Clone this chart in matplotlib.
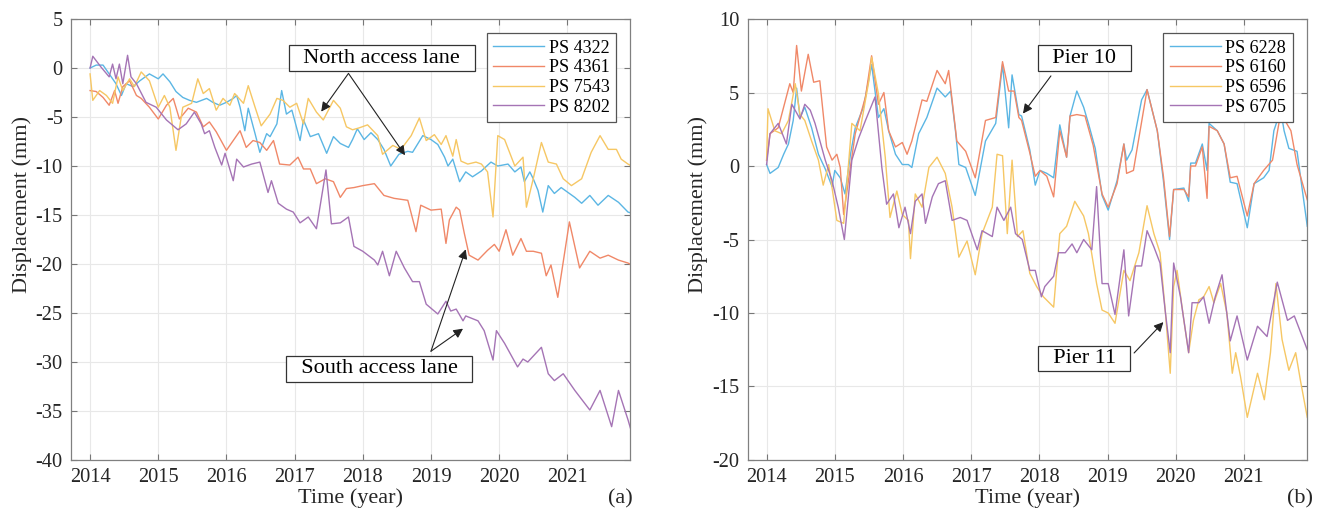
import matplotlib.pyplot as plt

plt.rcParams['font.family'] = ['Liberation Serif', 'DejaVu Serif']
plt.rcParams['axes.unicode_minus'] = False

# (a) access lanes: (decimal year, displacement mm)
ps_4322 = [(2014.00, 0.0), (2014.09, 0.3), (2014.19, 0.3), (2014.28, -0.6), (2014.38, -1.6), (2014.46, -2.8),
           (2014.53, -1.6), (2014.63, -1.9), (2014.73, -1.3), (2014.87, -0.6), (2015.00, -1.1), (2015.07, -0.6),
           (2015.17, -1.4), (2015.26, -2.4), (2015.36, -3.0), (2015.46, -3.3), (2015.56, -3.5), (2015.71, -3.1),
           (2015.80, -3.5), (2015.90, -3.8), (2016.00, -3.5), (2016.10, -3.1), (2016.15, -2.8), (2016.20, -4.0),
           (2016.27, -6.4), (2016.32, -4.1), (2016.42, -6.7), (2016.49, -8.6), (2016.59, -6.7), (2016.64, -7.0),
           (2016.74, -5.7), (2016.81, -2.3), (2016.88, -4.7), (2016.96, -4.3), (2017.08, -7.4), (2017.13, -5.3),
           (2017.23, -7.0), (2017.35, -6.7), (2017.47, -8.7), (2017.57, -7.0), (2017.67, -7.7), (2017.79, -8.1),
           (2017.85, -7.3), (2017.92, -6.2), (2018.02, -7.3), (2018.12, -6.6), (2018.22, -7.3), (2018.31, -8.3),
           (2018.41, -10.0), (2018.53, -8.8), (2018.66, -8.5), (2018.73, -8.6), (2018.88, -6.9), (2019.00, -7.3),
           (2019.10, -7.8), (2019.20, -9.1), (2019.25, -10.0), (2019.32, -9.3), (2019.42, -11.6), (2019.51, -10.6),
           (2019.61, -11.1), (2019.74, -10.5), (2019.88, -9.6), (2019.98, -10.0), (2020.13, -9.8), (2020.23, -10.6),
           (2020.32, -10.1), (2020.37, -11.6), (2020.45, -10.6), (2020.50, -11.3), (2020.57, -12.5), (2020.64, -14.7),
           (2020.72, -12.0), (2020.81, -12.8), (2020.91, -12.2), (2021.11, -13.2), (2021.21, -13.8), (2021.33, -13.0),
           (2021.45, -14.0), (2021.60, -13.0), (2021.75, -13.7), (2021.89, -14.7), (2021.94, -14.8)]

ps_4361 = [(2014.00, -2.3), (2014.09, -2.4), (2014.19, -3.0), (2014.28, -3.8), (2014.36, -2.3), (2014.41, -3.6),
           (2014.48, -1.9), (2014.58, -1.3), (2014.68, -2.8), (2014.75, -3.1), (2014.87, -4.0), (2015.00, -5.2),
           (2015.12, -3.8), (2015.22, -3.1), (2015.31, -5.2), (2015.44, -4.1), (2015.56, -4.5), (2015.66, -6.0),
           (2015.75, -5.5), (2015.85, -6.5), (2016.00, -8.4), (2016.10, -7.4), (2016.20, -6.4), (2016.29, -8.1),
           (2016.39, -7.4), (2016.49, -7.6), (2016.59, -8.4), (2016.69, -7.4), (2016.78, -9.8), (2016.93, -9.9),
           (2017.05, -9.1), (2017.13, -10.3), (2017.23, -10.3), (2017.32, -11.8), (2017.45, -11.3), (2017.57, -11.6),
           (2017.67, -13.2), (2017.76, -12.3), (2017.87, -12.2), (2018.00, -12.0), (2018.17, -11.8), (2018.31, -13.0),
           (2018.46, -13.3), (2018.66, -13.5), (2018.78, -16.7), (2018.85, -14.0), (2019.00, -14.5), (2019.15, -14.4),
           (2019.22, -17.9), (2019.27, -15.5), (2019.37, -14.2), (2019.42, -14.5), (2019.49, -16.9), (2019.56, -19.1),
           (2019.69, -19.6), (2019.83, -18.6), (2019.93, -18.0), (2020.00, -18.7), (2020.10, -16.5), (2020.20, -19.1),
           (2020.32, -17.4), (2020.40, -18.7), (2020.50, -18.7), (2020.62, -18.9), (2020.69, -21.2), (2020.76, -20.1),
           (2020.86, -23.4), (2021.03, -15.7), (2021.18, -20.4), (2021.33, -18.7), (2021.48, -19.4), (2021.60, -19.1),
           (2021.75, -19.6), (2021.89, -19.9), (2021.94, -20.1)]

ps_7543 = [(2014.00, -0.6), (2014.04, -3.3), (2014.14, -2.3), (2014.24, -2.8), (2014.33, -3.6), (2014.41, -0.9),
           (2014.48, -2.3), (2014.58, -1.1), (2014.65, -1.9), (2014.75, -0.4), (2014.87, -1.3), (2015.00, -4.0),
           (2015.09, -2.8), (2015.17, -4.0), (2015.26, -8.4), (2015.36, -4.0), (2015.49, -3.6), (2015.58, -1.1),
           (2015.66, -2.6), (2015.75, -2.1), (2015.85, -4.3), (2015.95, -3.1), (2016.05, -3.8), (2016.12, -2.6),
           (2016.25, -3.6), (2016.32, -1.8), (2016.42, -4.0), (2016.51, -5.9), (2016.64, -4.7), (2016.74, -3.1),
           (2016.83, -3.3), (2016.93, -4.0), (2017.03, -3.6), (2017.13, -5.7), (2017.20, -3.1), (2017.32, -4.5),
           (2017.42, -5.3), (2017.57, -3.3), (2017.67, -4.1), (2017.76, -6.0), (2017.85, -6.3), (2017.95, -6.1),
           (2018.07, -5.8), (2018.22, -6.9), (2018.29, -8.8), (2018.44, -7.9), (2018.56, -8.3), (2018.71, -6.9),
           (2018.83, -5.1), (2018.93, -7.4), (2019.05, -6.8), (2019.15, -7.8), (2019.22, -6.9), (2019.32, -9.0),
           (2019.37, -7.3), (2019.44, -9.5), (2019.54, -9.8), (2019.66, -9.6), (2019.74, -9.8), (2019.83, -10.6),
           (2019.91, -15.2), (2019.98, -6.9), (2020.08, -7.3), (2020.23, -10.0), (2020.35, -9.1), (2020.40, -14.2),
           (2020.50, -11.3), (2020.62, -7.6), (2020.72, -9.6), (2020.84, -9.8), (2020.94, -11.3), (2021.06, -12.0),
           (2021.21, -11.3), (2021.35, -8.6), (2021.48, -6.9), (2021.60, -8.3), (2021.72, -8.3), (2021.79, -9.3),
           (2021.89, -9.8), (2021.94, -10.0)]

ps_8202 = [(2014.00, 0.0), (2014.04, 1.2), (2014.16, 0.1), (2014.28, -0.9), (2014.33, 0.4), (2014.38, -1.1),
           (2014.43, 0.4), (2014.48, -1.6), (2014.55, 1.3), (2014.60, -0.9), (2014.68, -1.6), (2014.82, -3.5),
           (2014.97, -4.0), (2015.12, -5.3), (2015.29, -6.3), (2015.41, -5.7), (2015.53, -4.5), (2015.63, -5.7),
           (2015.68, -6.7), (2015.75, -6.4), (2015.83, -8.1), (2015.93, -9.9), (2015.98, -8.7), (2016.10, -11.5),
           (2016.15, -9.3), (2016.25, -10.1), (2016.37, -9.8), (2016.49, -9.6), (2016.61, -12.7), (2016.66, -11.5),
           (2016.76, -13.8), (2016.88, -14.4), (2016.98, -14.7), (2017.08, -15.8), (2017.20, -15.2), (2017.32, -16.4),
           (2017.46, -10.4), (2017.54, -15.9), (2017.67, -15.8), (2017.79, -15.2), (2017.87, -18.2), (2018.00, -18.7),
           (2018.17, -19.6), (2018.22, -20.1), (2018.29, -18.7), (2018.39, -21.2), (2018.49, -18.7), (2018.61, -20.4),
           (2018.73, -21.8), (2018.83, -21.8), (2018.93, -24.1), (2019.10, -25.1), (2019.22, -23.8), (2019.29, -24.8),
           (2019.37, -24.6), (2019.47, -25.8), (2019.51, -25.3), (2019.69, -25.8), (2019.78, -26.8), (2019.91, -29.8),
           (2019.96, -26.8), (2020.08, -28.1), (2020.27, -30.5), (2020.35, -29.7), (2020.42, -30.0), (2020.62, -28.5),
           (2020.72, -31.2), (2020.81, -31.9), (2020.94, -31.2), (2021.11, -32.9), (2021.33, -34.9), (2021.48, -32.9),
           (2021.65, -36.6), (2021.75, -32.9), (2021.89, -35.9), (2021.94, -37.1)]

# (b) piers
ps_6228 = [(2014.00, 0.1), (2014.05, -0.5), (2014.17, -0.1), (2014.25, 0.8), (2014.32, 1.5), (2014.39, 3.1),
           (2014.44, 5.3), (2014.49, 3.3), (2014.56, 4.0), (2014.66, 2.6), (2014.76, 0.8), (2014.86, -0.2),
           (2014.96, -1.4), (2015.00, -0.3), (2015.08, -0.8), (2015.15, -1.9), (2015.23, 0.8), (2015.30, 2.6),
           (2015.42, 4.0), (2015.54, 6.9), (2015.64, 3.3), (2015.72, 3.9), (2015.79, 2.4), (2015.89, 0.8),
           (2015.99, 0.1), (2016.08, 0.1), (2016.13, -0.1), (2016.23, 2.2), (2016.35, 3.3), (2016.50, 5.3),
           (2016.62, 4.7), (2016.70, 5.1), (2016.77, 2.4), (2016.82, 0.1), (2016.92, -0.1), (2017.06, -2.0),
           (2017.21, 1.7), (2017.36, 2.9), (2017.46, 6.9), (2017.55, 2.6), (2017.60, 6.2), (2017.70, 3.5),
           (2017.74, 3.4), (2017.86, 1.1), (2017.94, -1.3), (2018.01, -0.3), (2018.11, -0.5), (2018.21, -0.8),
           (2018.30, 2.8), (2018.40, 0.6), (2018.45, 3.4), (2018.55, 5.1), (2018.65, 4.0), (2018.72, 2.9),
           (2018.82, 1.2), (2018.92, -2.0), (2019.01, -3.0), (2019.14, -1.0), (2019.24, 1.5), (2019.28, 0.4),
           (2019.36, 1.1), (2019.50, 4.5), (2019.58, 5.2), (2019.73, 2.4), (2019.82, -1.0), (2019.91, -5.0),
           (2019.97, -1.6), (2020.12, -1.5), (2020.19, -2.4), (2020.22, 0.2), (2020.29, 0.2), (2020.39, 1.5),
           (2020.46, -0.3), (2020.49, 2.9), (2020.61, 2.4), (2020.71, 1.5), (2020.80, -1.1), (2020.90, -1.2),
           (2021.05, -4.2), (2021.15, -1.2), (2021.29, -0.8), (2021.37, -0.3), (2021.44, 2.4), (2021.54, 3.8),
           (2021.59, 2.4), (2021.66, 1.2), (2021.78, 1.0), (2021.93, -4.1)]

ps_6160 = [(2014.00, 0.4), (2014.05, 2.2), (2014.17, 2.6), (2014.34, 5.6), (2014.39, 5.0), (2014.44, 8.2),
           (2014.51, 5.1), (2014.61, 7.6), (2014.69, 5.7), (2014.78, 5.8), (2014.88, 1.3), (2014.96, 0.4),
           (2015.03, 0.8), (2015.08, -0.1), (2015.13, -3.3), (2015.20, -1.0), (2015.30, 2.2), (2015.45, 4.7),
           (2015.54, 7.5), (2015.64, 4.2), (2015.72, 5.0), (2015.79, 2.4), (2015.89, 1.3), (2015.99, 1.6),
           (2016.06, 0.8), (2016.13, 1.7), (2016.28, 4.5), (2016.35, 4.4), (2016.50, 6.5), (2016.62, 5.6),
           (2016.67, 6.5), (2016.79, 1.7), (2016.92, 1.0), (2017.06, -0.8), (2017.21, 3.1), (2017.36, 3.3),
           (2017.46, 7.1), (2017.55, 5.1), (2017.63, 5.1), (2017.70, 3.3), (2017.74, 3.1), (2017.86, 0.9),
           (2017.94, -0.7), (2018.01, -0.3), (2018.11, -0.7), (2018.21, -2.1), (2018.30, 2.4), (2018.40, 0.6),
           (2018.45, 3.4), (2018.55, 3.5), (2018.67, 3.4), (2018.79, 1.4), (2018.92, -1.9), (2019.01, -2.8),
           (2019.14, -1.2), (2019.24, 1.5), (2019.28, -0.5), (2019.38, -0.3), (2019.50, 3.0), (2019.58, 5.2),
           (2019.73, 2.4), (2019.82, -0.7), (2019.91, -4.8), (2019.97, -1.6), (2020.12, -1.6), (2020.19, -2.1),
           (2020.22, 0.0), (2020.29, 0.0), (2020.39, 1.3), (2020.46, -2.2), (2020.49, 2.7), (2020.61, 2.4),
           (2020.71, 1.5), (2020.80, -0.8), (2020.90, -0.7), (2021.05, -3.4), (2021.15, -1.2), (2021.29, -0.3),
           (2021.42, 0.4), (2021.54, 3.6), (2021.69, 2.4), (2021.78, 0.1), (2021.93, -2.3)]

ps_6596 = [(2014.00, 0.4), (2014.02, 3.9), (2014.12, 2.4), (2014.22, 2.2), (2014.32, 3.1), (2014.42, 5.6),
           (2014.49, 3.5), (2014.56, 3.1), (2014.66, 1.7), (2014.76, 0.4), (2014.83, -1.3), (2014.91, 0.1),
           (2015.03, -3.7), (2015.13, -3.9), (2015.25, 2.9), (2015.37, 2.4), (2015.50, 5.8), (2015.54, 7.4),
           (2015.64, 4.9), (2015.74, 0.6), (2015.81, -3.5), (2015.91, -1.7), (2015.99, -3.3), (2016.08, -3.7),
           (2016.11, -6.3), (2016.18, -1.9), (2016.28, -2.8), (2016.38, -0.1), (2016.50, 0.6), (2016.62, -0.5),
           (2016.72, -2.8), (2016.82, -6.2), (2016.94, -5.1), (2017.06, -7.4), (2017.16, -4.6), (2017.31, -2.8),
           (2017.38, 0.8), (2017.46, 0.7), (2017.53, -4.6), (2017.60, 0.4), (2017.68, -4.8), (2017.76, -4.4),
           (2017.86, -7.3), (2017.96, -8.2), (2018.06, -8.9), (2018.21, -9.6), (2018.30, -4.6), (2018.40, -4.1),
           (2018.52, -2.4), (2018.65, -3.4), (2018.72, -4.6), (2018.84, -8.0), (2018.92, -9.8), (2019.01, -10.0),
           (2019.11, -10.7), (2019.24, -7.1), (2019.33, -7.8), (2019.46, -5.9), (2019.58, -2.7), (2019.68, -4.6),
           (2019.77, -5.9), (2019.85, -10.0), (2019.92, -14.1), (2019.97, -8.2), (2020.02, -7.1), (2020.12, -10.5),
           (2020.19, -12.7), (2020.26, -10.5), (2020.34, -9.1), (2020.41, -8.9), (2020.49, -8.2), (2020.56, -9.3),
           (2020.66, -8.0), (2020.75, -10.0), (2020.83, -14.1), (2020.88, -12.7), (2020.95, -14.3), (2021.05, -17.1),
           (2021.20, -14.1), (2021.30, -15.9), (2021.39, -12.7), (2021.47, -8.0), (2021.56, -11.8), (2021.66, -13.9),
           (2021.76, -12.7), (2021.83, -14.6), (2021.93, -17.1)]

ps_6705 = [(2014.00, 0.1), (2014.05, 2.2), (2014.17, 2.9), (2014.29, 1.5), (2014.37, 4.2), (2014.49, 3.2),
           (2014.56, 4.2), (2014.64, 3.8), (2014.71, 2.9), (2014.86, 0.4), (2014.96, -1.0), (2015.05, -2.8),
           (2015.14, -5.0), (2015.25, 0.4), (2015.35, 1.9), (2015.45, 3.1), (2015.59, 4.7), (2015.69, -0.1),
           (2015.76, -2.6), (2015.86, -1.9), (2015.94, -4.2), (2016.03, -2.8), (2016.11, -4.6), (2016.18, -2.4),
           (2016.28, -1.9), (2016.33, -3.9), (2016.43, -2.1), (2016.52, -1.2), (2016.62, -1.0), (2016.72, -3.7),
           (2016.84, -3.5), (2016.94, -3.7), (2017.09, -5.7), (2017.16, -4.4), (2017.31, -4.8), (2017.38, -2.8),
           (2017.48, -3.7), (2017.58, -2.8), (2017.65, -4.6), (2017.75, -5.0), (2017.86, -7.1), (2017.94, -7.1),
           (2018.03, -8.9), (2018.08, -8.2), (2018.21, -7.5), (2018.28, -5.9), (2018.38, -5.9), (2018.48, -5.3),
           (2018.55, -5.9), (2018.65, -5.0), (2018.77, -5.7), (2018.84, -1.4), (2018.92, -8.0), (2019.01, -8.0),
           (2019.11, -10.1), (2019.24, -5.7), (2019.31, -10.2), (2019.41, -6.8), (2019.50, -6.8), (2019.58, -4.4),
           (2019.68, -5.5), (2019.77, -6.6), (2019.85, -10.0), (2019.92, -12.7), (2019.97, -6.6), (2020.07, -8.9),
           (2020.19, -12.7), (2020.24, -9.3), (2020.34, -9.3), (2020.41, -8.9), (2020.49, -10.7), (2020.58, -8.9),
           (2020.68, -7.4), (2020.80, -11.9), (2020.90, -10.2), (2021.05, -13.2), (2021.20, -10.9), (2021.34, -11.6),
           (2021.49, -7.9), (2021.64, -10.5), (2021.74, -10.2), (2021.93, -12.5)]

labels_a = ['PS 4322', 'PS 4361', 'PS 7543', 'PS 8202']
labels_b = ['PS 6228', 'PS 6160', 'PS 6596', 'PS 6705']
years = list(range(2014, 2022))
colors = ['#5BB6E4', '#F08868', '#F6C764', '#A574B5']


def style_axes(ax, ylim, yticks, tag, tag_x):
    ax.set_xlim(2013.72, 2021.92)
    ax.set_ylim(*ylim)
    ax.set_xticks(years)
    ax.set_yticks(yticks)
    ax.tick_params(direction='in', top=True, right=True, length=4, width=0.8,
                   color='#777777', labelsize=14.7, pad=6, labelcolor='#262626')
    for s in ax.spines.values():
        s.set_color('#808080')
        s.set_linewidth(0.9)
    ax.grid(True, color='#e8e8e8', lw=0.8)
    ax.set_axisbelow(True)
    ax.set_xlabel('Time (year)', fontsize=16, labelpad=1, color='#262626')
    ax.set_ylabel('Displacement (mm)', fontsize=16, color='#262626')
    ax.yaxis.set_label_coords(-0.07, 0.58)
    ax.text(tag_x, -0.088, tag, transform=ax.transAxes, fontsize=16,
            ha='center', va='center', color='#262626')


def add_legend(ax, labels):
    leg = ax.legend(labels, loc='upper right', bbox_to_anchor=(0.975, 0.968), borderaxespad=0,
                    fontsize=13.1, fancybox=False, edgecolor='#555555', framealpha=1,
                    handlelength=2.8, handletextpad=0.25, labelspacing=0.15, borderpad=0.35)
    leg.get_frame().set_linewidth(0.9)


def note(ax, text, center, origin, tips):
    ax.text(center[0], center[1], '  ' + text + '  ', ha='center', va='center', fontsize=16,
            bbox=dict(boxstyle='square,pad=0.15', fc='white', ec='#333333', lw=0.9), zorder=5)
    for tip in tips:
        ax.annotate('', xy=tip, xytext=origin, zorder=6,
                    arrowprops=dict(arrowstyle='-|>', color='#222222', lw=0.8,
                                    shrinkA=0, shrinkB=0, mutation_scale=14))


fig = plt.figure(figsize=(13.17, 5.2), dpi=100)
ax1 = fig.add_axes([0.0539, 0.1154, 0.4245, 0.848])
ax2 = fig.add_axes([0.5676, 0.1154, 0.4245, 0.848])

for series, c in zip([ps_4322, ps_4361, ps_7543, ps_8202], colors):
    t, d = zip(*series)
    ax1.plot(t, d, color=c, lw=1.0)
for series, c in zip([ps_6228, ps_6160, ps_6596, ps_6705], colors):
    t, d = zip(*series)
    ax2.plot(t, d, color=c, lw=1.0)

style_axes(ax1, (-40, 5), range(-40, 6, 5), '(a)', 0.982)
style_axes(ax2, (-20, 10), range(-20, 11, 5), '(b)', 0.988)
add_legend(ax1, labels_a)
add_legend(ax2, labels_b)

note(ax1, 'North access lane', (2018.28, 1.0), (2017.79, -0.55),
     [(2017.39, -4.45), (2018.62, -8.9)])
note(ax1, 'South access lane', (2018.24, -30.7), (2019.0, -28.9),
     [(2019.51, -18.5), (2019.47, -26.6)])
note(ax2, 'Pier 10', (2018.66, 7.33), (2018.17, 6.13), [(2017.76, 3.57)])
note(ax2, 'Pier 11', (2018.66, -13.1), (2019.39, -12.72), [(2019.82, -10.62)])

fig.savefig('out.png', dpi=100)
